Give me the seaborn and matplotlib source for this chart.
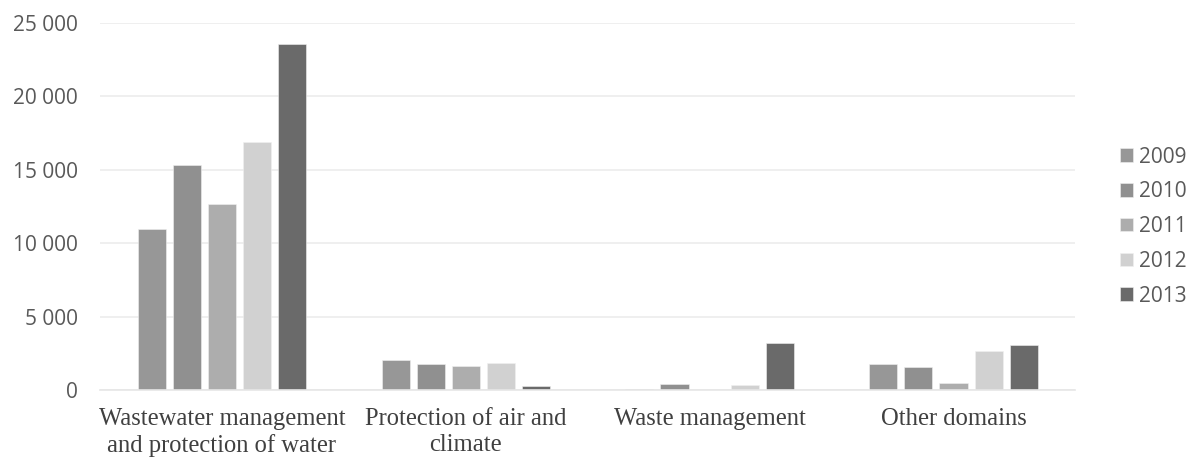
import matplotlib
matplotlib.use("Agg")
import matplotlib.pyplot as plt
from matplotlib.ticker import FuncFormatter
import pandas as pd
import seaborn as sns

# Environmental protection expenditure by domain and year
domains = [
    "Wastewater management\nand protection of water",
    "Protection of air and\nclimate",
    "Waste management",
    "Other domains",
]
years = ["2009", "2010", "2011", "2012", "2013"]
values_2009 = [11000, 2020, 100, 1750]
values_2010 = [15350, 1750, 430, 1570]
values_2011 = [12700, 1660, 0, 520]
values_2012 = [16900, 1840, 340, 2640]
values_2013 = [23600, 250, 3180, 3070]
yticks = [0, 5000, 10000, 15000, 20000, 25000]

series = [values_2009, values_2010, values_2011, values_2012, values_2013]
rows = []
for year, vals in zip(years, series):
    for dom, v in zip(domains, vals):
        rows.append({"domain": dom, "year": year, "value": v})
df = pd.DataFrame(rows)

palette = ["#979797", "#909090", "#adadad", "#d1d1d1", "#6a6a6a"]

sns.set_theme(style="white")
plt.rcParams["font.family"] = ["Open Sans", "DejaVu Sans"]

fig = plt.figure(figsize=(11.88, 4.59), dpi=100)
ax = fig.add_axes([0.0842, 0.150, 0.821, 0.800])

sns.barplot(data=df, x="domain", y="value", hue="year", order=domains,
            hue_order=years, palette=palette, width=0.72, gap=0.2,
            edgecolor="#f0f0f0", linewidth=0.4, saturation=1, ax=ax)

ax.set_ylim(0, 25000)
ax.set_xlim(-0.5, 3.5)
ax.set_yticks(yticks)
ax.yaxis.set_major_formatter(FuncFormatter(lambda v, p: f"{int(v):,}".replace(",", " ")))
ax.grid(axis="y", color="#ececec", linewidth=1.2)
ax.set_axisbelow(True)
for s in ["top", "right", "left"]:
    ax.spines[s].set_visible(False)
ax.spines["bottom"].set_color("#e6e6e6")
ax.spines["bottom"].set_linewidth(1.2)
ax.tick_params(axis="both", length=0)
ax.tick_params(axis="y", labelsize=15, labelcolor="#595959", pad=16)
ax.set_xlabel("")
ax.set_ylabel("")
for lbl in ax.get_xticklabels():
    lbl.set_fontfamily("Liberation Serif")
    lbl.set_fontsize(17.7)
    lbl.set_color("#404040")
    lbl.set_linespacing(1.22)
ax.tick_params(axis="x", pad=13)

leg = ax.legend(loc="center left", bbox_to_anchor=(1.037, 0.4455), frameon=False,
                fontsize=15, handlelength=0.62, handleheight=0.62,
                handletextpad=0.3, labelspacing=0.66, borderaxespad=0)
for t in leg.get_texts():
    t.set_color("#595959")

fig.savefig("out.png", dpi=100, facecolor="white")
